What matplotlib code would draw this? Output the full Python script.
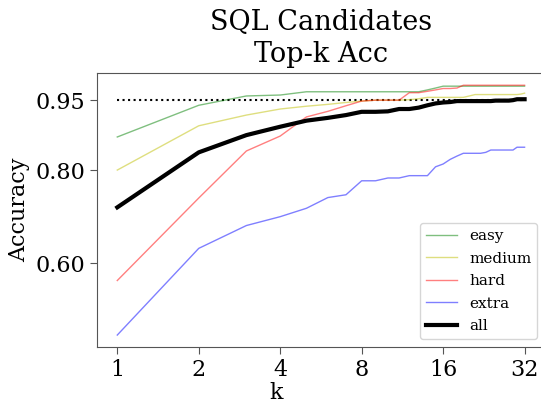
import matplotlib
matplotlib.use("Agg")
import matplotlib.pyplot as plt

plt.rcParams['font.family'] = 'DejaVu Serif'

k = list(range(1, 33))

easy = [0.871, 0.939, 0.959, 0.961, 0.968, 0.968, 0.968, 0.968, 0.968, 0.968,
        0.968, 0.968, 0.968, 0.972, 0.976, 0.980, 0.980, 0.980, 0.980, 0.980,
        0.980, 0.980, 0.980, 0.980, 0.980, 0.980, 0.980, 0.980, 0.980, 0.980,
        0.980, 0.980]
medium = [0.800, 0.895, 0.918, 0.931, 0.937, 0.941, 0.945, 0.948, 0.950, 0.950,
          0.950, 0.951, 0.953, 0.956, 0.956, 0.956, 0.956, 0.956, 0.956, 0.959,
          0.962, 0.962, 0.962, 0.962, 0.962, 0.962, 0.962, 0.962, 0.962, 0.962,
          0.963, 0.965]
hard = [0.563, 0.740, 0.841, 0.873, 0.914, 0.926, 0.938, 0.948, 0.950, 0.950,
        0.950, 0.966, 0.966, 0.969, 0.972, 0.975, 0.975, 0.976, 0.982, 0.982,
        0.982, 0.982, 0.982, 0.982, 0.982, 0.982, 0.982, 0.982, 0.982, 0.982,
        0.982, 0.982]
extra = [0.446, 0.632, 0.681, 0.700, 0.718, 0.741, 0.747, 0.777, 0.777, 0.783,
         0.783, 0.788, 0.788, 0.788, 0.807, 0.813, 0.823, 0.830, 0.836, 0.836,
         0.836, 0.836, 0.838, 0.843, 0.843, 0.843, 0.843, 0.843, 0.843, 0.849,
         0.849, 0.849]
all_acc = [0.720, 0.838, 0.875, 0.893, 0.906, 0.912, 0.918, 0.925, 0.925, 0.926,
           0.931, 0.931, 0.934, 0.939, 0.943, 0.945, 0.946, 0.948, 0.948, 0.948,
           0.948, 0.948, 0.948, 0.948, 0.949, 0.949, 0.949, 0.949, 0.950, 0.952,
           0.952, 0.952]

xticks = [1, 2, 4, 8, 16, 32]
yticks = [0.60, 0.80, 0.95]

fig = plt.figure(figsize=(5.41, 4.03), dpi=100)
ax = fig.add_axes([0.1793, 0.1397, 0.828, 0.680])

ax.hlines(0.95, 1, 32, colors='black', linestyles=':', linewidth=1.5)
ax.plot(k, easy, color='green', alpha=0.5, linewidth=1, label='easy')
ax.plot(k, medium, color='y', alpha=0.5, linewidth=1, label='medium')
ax.plot(k, hard, color='r', alpha=0.5, linewidth=1, label='hard')
ax.plot(k, extra, color='b', alpha=0.5, linewidth=1, label='extra')
ax.plot(k, all_acc, color='black', linewidth=3, label='all')

ax.set_xscale('log', base=2)
ax.set_xticks(xticks)
ax.set_xticklabels([str(t) for t in xticks])
ax.minorticks_off()
ax.set_yticks(yticks)
ax.set_yticklabels([f"{t:.2f}" for t in yticks])
ax.set_ylim(0.421, 1.009)
ax.set_xlim(2 ** -0.249, 32 * 2 ** 0.25)

for side in ['left', 'bottom', 'top', 'right']:
    ax.spines[side].set_color('#555555')
ax.tick_params(colors='#555555', labelcolor='black', labelsize=16, length=5)

ax.set_ylabel('Accuracy', fontsize=16)
ax.set_xlabel('k', fontsize=16)
ax.xaxis.set_label_coords(0.40, -0.13)
ax.set_title('SQL Candidates\nTop-k Acc', fontsize=19.5, pad=8)
ax.legend(loc='lower right', fontsize=11, labelspacing=0.55)

fig.savefig('out.png', dpi=100)
